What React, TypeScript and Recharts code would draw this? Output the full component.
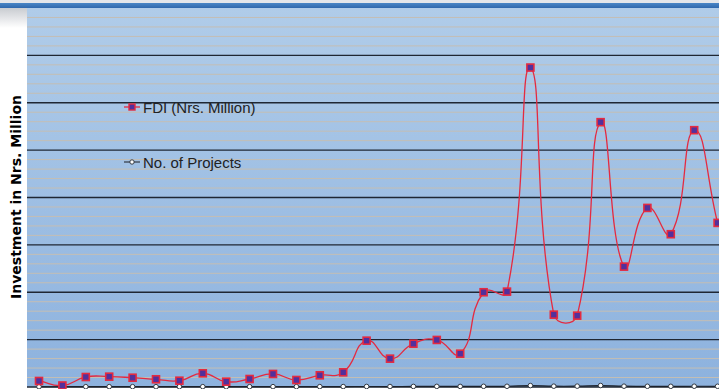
import React from "react";
import { LineChart, Line, XAxis, YAxis, ReferenceLine, ReferenceArea, Legend } from "recharts";

// Observation index (one point per period)
const periods: number[] = [
  0, 1, 2, 3, 4, 5, 6, 7, 8, 9, 10, 11, 12, 13, 14, 15, 16, 17, 18, 19, 20, 21, 22, 23, 24, 25, 26, 27, 28, 29,
];

// FDI inflow, Nrs. Million
const fdiValues: number[] = [
  254, 64, 422, 436, 392, 326, 266, 578, 224, 338, 550, 296, 494, 620, 1956, 1196, 1828, 1986, 1406, 4000,
  4026, 13486, 3054, 3012, 11180, 5082, 7560, 6450, 10842, 6928,
];

// Number of approved projects
const projectValues: number[] = [
  12, 10, 14, 15, 14, 13, 12, 14, 12, 13, 15, 14, 16, 18, 22, 20, 24, 26, 24, 28, 30, 60, 34, 36, 62, 34, 30,
  28, 32, 30,
];

const majorTicks: number[] = [0, 2000, 4000, 6000, 8000, 10000, 12000, 14000];
const minorTicks: number[] = Array.from({ length: 40 }, (_, i) => i * 400).filter((v) => v % 2000 !== 0);

const data = periods.map((p, i) => ({ p, fdi: fdiValues[i], projects: projectValues[i] }));

// Smoothed line: cubic Bezier segments with tangents scaled by neighbouring segment lengths
function smoothCurve(context: any) {
  let pts: [number, number][] = [];
  const dist = (a: [number, number], b: [number, number]) => Math.hypot(b[0] - a[0], b[1] - a[1]);
  return {
    areaStart() {},
    areaEnd() {},
    lineStart() {
      pts = [];
    },
    point(x: number, y: number) {
      pts.push([+x, +y]);
    },
    lineEnd() {
      const n = pts.length;
      if (!n) return;
      context.moveTo(pts[0][0], pts[0][1]);
      for (let i = 0; i < n - 1; i++) {
        const p0 = pts[Math.max(i - 1, 0)];
        const p1 = pts[i];
        const p2 = pts[i + 1];
        const p3 = pts[Math.min(i + 2, n - 1)];
        const d01 = dist(p0, p1);
        const d12 = dist(p1, p2);
        const d23 = dist(p2, p3);
        const f1 = d01 + d12 > 0 ? (0.5 * d12) / (d01 + d12) : 0;
        const f2 = d12 + d23 > 0 ? (0.5 * d12) / (d12 + d23) : 0;
        context.bezierCurveTo(
          p1[0] + (p2[0] - p0[0]) * f1,
          p1[1] + (p2[1] - p0[1]) * f1,
          p2[0] - (p3[0] - p1[0]) * f2,
          p2[1] - (p3[1] - p1[1]) * f2,
          p2[0],
          p2[1]
        );
      }
    },
  };
}

const FDI_RED = "#e42a40";
const FDI_FILL = "#52309c";

const SquareDot = (props: any) => {
  const { cx, cy, index } = props;
  if (cx == null || cy == null) return null;
  return (
    <rect key={`sq-${index}`} x={cx - 3.5} y={cy - 3.5} width={7} height={7} fill={FDI_FILL} stroke={FDI_RED} strokeWidth={1.6} />
  );
};

const RoundDot = (props: any) => {
  const { cx, cy, index } = props;
  if (cx == null || cy == null) return null;
  return <circle key={`rd-${index}`} cx={cx} cy={cy} r={2.3} fill="#ffffff" stroke="#333a44" strokeWidth={1} />;
};

const legendItems = [
  { label: "FDI (Nrs. Million)", kind: "fdi" },
  { label: "No. of Projects", kind: "projects" },
];

const LegendBox = () => (
  <div style={{ fontFamily: "'Liberation Sans Narrow', 'Liberation Sans', sans-serif", fontSize: 15, color: "#222" }}>
    {legendItems.map((it) => (
      <div key={it.kind} style={{ display: "flex", alignItems: "center", height: 20, marginBottom: 35 }}>
        <svg width={18} height={12} style={{ marginRight: 1 }}>
          {it.kind === "fdi" ? (
            <>
              <line x1={0} y1={6} x2={16} y2={6} stroke={FDI_RED} strokeWidth={1.3} />
              <rect x={5} y={3} width={6} height={6} fill={FDI_FILL} stroke={FDI_RED} strokeWidth={1.4} />
            </>
          ) : (
            <>
              <line x1={0} y1={6} x2={16} y2={6} stroke="#333a44" strokeWidth={1.2} />
              <circle cx={8} cy={6} r={2.2} fill="#fff" stroke="#333a44" strokeWidth={1} />
            </>
          )}
        </svg>
        <span>{it.label}</span>
      </div>
    ))}
  </div>
);

export default function App() {
  return (
    <div style={{ position: "absolute", left: 0, top: 0, width: 719, height: 389, overflow: "hidden", background: "#ffffff" }}>
      {/* header band */}
      <div
        style={{
          position: "absolute",
          left: 0,
          top: 0,
          width: 719,
          height: 8,
          background: "linear-gradient(#e4e6ea 0px, #e4e6ea 3px, #4a86c6 3px, #2f68ad 8px)",
        }}
      />
      <div
        style={{
          position: "absolute",
          left: 0,
          top: 8,
          width: 27,
          height: 20,
          background: "linear-gradient(#c9ccd1, #ffffff)",
        }}
      />
      <div
        style={{
          position: "absolute",
          left: 16,
          top: 197,
          transform: "translate(-50%, -50%) rotate(-90deg)",
          whiteSpace: "nowrap",
          fontFamily: "'DejaVu Sans', Verdana, sans-serif",
          fontWeight: 700,
          fontSize: 14,
          color: "#000",
        }}
      >
        Investment in Nrs. Million
      </div>
      <div style={{ position: "absolute", left: 0, top: 0 }}>
        <LineChart width={719} height={389} data={data} margin={{ top: 8, right: 0, left: 27, bottom: 2 }}>
          <defs>
            <linearGradient id="plotBg" x1="0" y1="0" x2="0" y2="1">
              <stop offset="0%" stopColor="#b0cce9" />
              <stop offset="100%" stopColor="#8db2de" />
            </linearGradient>
          </defs>
          <XAxis dataKey="p" type="number" domain={[-0.513, 29.06]} hide />
          <YAxis type="number" domain={[0, 16000]} hide />
          <ReferenceArea x1={-0.513} x2={29.06} y1={0} y2={16000} fill="url(#plotBg)" fillOpacity={1} stroke="none" ifOverflow="extendDomain" />
          {minorTicks.map((v) => (
            <ReferenceLine key={`mn-${v}`} y={v} stroke="#c4beb4" strokeWidth={1} />
          ))}
          {majorTicks.map((v) => (
            <ReferenceLine key={`mj-${v}`} y={v} stroke="#1f2733" strokeWidth={1.3} />
          ))}
          <Line
            dataKey="projects"
            type={smoothCurve as any}
            stroke="#1c222c"
            strokeWidth={1.2}
            dot={RoundDot}
            activeDot={false}
            isAnimationActive={false}
          />
          <Line
            dataKey="fdi"
            type={smoothCurve as any}
            stroke={FDI_RED}
            strokeWidth={1.3}
            dot={SquareDot}
            activeDot={false}
            isAnimationActive={false}
          />
          <Legend
            layout="vertical"
            align="center"
            verticalAlign="middle"
            content={<LegendBox />}
            wrapperStyle={{ left: 124, top: 97, width: 200 }}
          />
        </LineChart>
      </div>
    </div>
  );
}
